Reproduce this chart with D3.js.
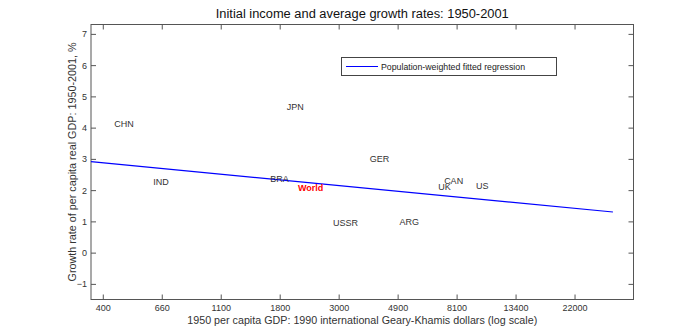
<!DOCTYPE html>
<html>
<head>
<meta charset="utf-8">
<script src="https://cdn.jsdelivr.net/npm/d3@7"></script>
<style>
  body { margin: 0; background: #fff; }
  text { font-family: "Liberation Sans", Arial, sans-serif; }
</style>
</head>
<body>
<svg id="chart" width="700" height="336"></svg>
<script>
// countries: 1950 GDP per capita and average growth 1950-2001
const countries = ['CHN', 'IND', 'JPN', 'BRA', 'World', 'USSR', 'GER', 'ARG', 'UK', 'CAN', 'US'];
const gdp1950 = [445, 619, 1920, 1670, 2110, 2840, 3880, 4990, 6940, 7290, 9560];
const growth = [4.11, 2.27, 4.67, 2.36, 2.07, 0.95, 2.99, 0.97, 2.11, 2.30, 2.13];

// fitted regression endpoints
const fitX = [365, 30500];
const fitY = [2.91, 1.30];

const xTickLabels = ['400', '660', '1100', '1800', '3000', '4900', '8100', '13400', '22000'];
const xTickValues = [403.4, 665.1, 1096.6, 1808.0, 2981.0, 4914.8, 8103.1, 13359.7, 22026.5];
const yTicks = [-1, 0, 1, 2, 3, 4, 5, 6, 7];

const width = 700, height = 336;
const margin = { top: 24.5, right: 66.5, bottom: 36.5, left: 91 };

const svg = d3.select('#chart');

const x = d3.scaleLog()
  .domain([Math.exp(5.9), Math.exp(10.5)])
  .range([margin.left, width - margin.right]);
const y = d3.scaleLinear()
  .domain([-1.5, 7.3])
  .range([height - margin.bottom, margin.top]);

const axisColor = '#555';
const tickLen = 5;

// frame
svg.append('rect')
  .attr('x', margin.left)
  .attr('y', margin.top)
  .attr('width', width - margin.right - margin.left)
  .attr('height', height - margin.bottom - margin.top)
  .attr('fill', 'none')
  .attr('stroke', axisColor);

// axes (ticks pointing inward on all four sides)
const bottomAxis = d3.axisBottom(x).tickValues(xTickValues)
  .tickSizeInner(-tickLen).tickSizeOuter(0)
  .tickFormat((d, i) => xTickLabels[i]);
const gx = svg.append('g')
  .attr('transform', `translate(0,${height - margin.bottom})`)
  .call(bottomAxis);

const topAxis = d3.axisTop(x).tickValues(xTickValues)
  .tickSizeInner(-tickLen).tickSizeOuter(0).tickFormat('');
const gxt = svg.append('g')
  .attr('transform', `translate(0,${margin.top})`)
  .call(topAxis);

const leftAxis = d3.axisLeft(y).tickValues(yTicks)
  .tickSizeInner(-tickLen).tickSizeOuter(0).tickFormat(d3.format('d'));
const gy = svg.append('g')
  .attr('transform', `translate(${margin.left},0)`)
  .call(leftAxis);

const rightAxis = d3.axisRight(y).tickValues(yTicks)
  .tickSizeInner(-tickLen).tickSizeOuter(0).tickFormat('');
const gyr = svg.append('g')
  .attr('transform', `translate(${width - margin.right},0)`)
  .call(rightAxis);

[gx, gxt, gy, gyr].forEach(g => {
  g.select('.domain').remove();
  g.selectAll('line').attr('stroke', axisColor);
  g.selectAll('text')
    .attr('fill', '#333')
    .style('font-size', '9px')
    .style('font-family', '"Liberation Sans", Arial, sans-serif');
});
gx.selectAll('text').attr('y', 5).attr('dy', '0.71em');
gy.selectAll('text').attr('x', -4);

// regression line
const line = d3.line().x(d => x(d[0])).y(d => y(d[1]));
svg.append('path')
  .datum(fitX.map((v, i) => [v, fitY[i]]))
  .attr('d', line)
  .attr('fill', 'none')
  .attr('stroke', '#0000ff')
  .attr('stroke-width', 1.2);

// country labels
svg.append('g')
  .selectAll('text')
  .data(countries)
  .join('text')
  .attr('x', (d, i) => x(gdp1950[i]))
  .attr('y', (d, i) => y(growth[i]))
  .attr('dy', '0.35em')
  .attr('fill', d => d === 'World' ? '#ff0000' : '#333')
  .style('font-weight', d => d === 'World' ? 'bold' : 'normal')
  .style('font-size', '9px')
  .text(d => d);

// legend
const lg = svg.append('g');
lg.append('rect')
  .attr('x', 341.5).attr('y', 57.5)
  .attr('width', 215).attr('height', 18)
  .attr('fill', '#fff')
  .attr('stroke', '#444');
lg.append('line')
  .attr('x1', 346).attr('x2', 378)
  .attr('y1', 66.5).attr('y2', 66.5)
  .attr('stroke', '#0000ff');
lg.append('text')
  .attr('x', 381).attr('y', 66.5)
  .attr('dy', '0.35em')
  .attr('fill', '#222')
  .attr('textLength', 144)
  .attr('lengthAdjust', 'spacingAndGlyphs')
  .style('font-size', '9px')
  .text('Population-weighted fitted regression');

// title and axis labels
const cx = (margin.left + width - margin.right) / 2;
svg.append('text')
  .attr('x', cx).attr('y', 18)
  .attr('text-anchor', 'middle')
  .attr('fill', '#111')
  .attr('textLength', 293)
  .attr('lengthAdjust', 'spacingAndGlyphs')
  .style('font-size', '12px')
  .text('Initial income and average growth rates: 1950-2001');

svg.append('text')
  .attr('x', cx).attr('y', 324)
  .attr('text-anchor', 'middle')
  .attr('fill', '#333')
  .attr('textLength', 350)
  .attr('lengthAdjust', 'spacingAndGlyphs')
  .style('font-size', '10.5px')
  .text('1950 per capita GDP: 1990 international Geary-Khamis dollars (log scale)');

svg.append('text')
  .attr('transform', `translate(76,${(margin.top + height - margin.bottom) / 2}) rotate(-90)`)
  .attr('text-anchor', 'middle')
  .attr('fill', '#333')
  .attr('textLength', 239)
  .attr('lengthAdjust', 'spacingAndGlyphs')
  .style('font-size', '10.5px')
  .text('Growth rate of per capita real GDP: 1950-2001, %');
</script>
</body>
</html>
